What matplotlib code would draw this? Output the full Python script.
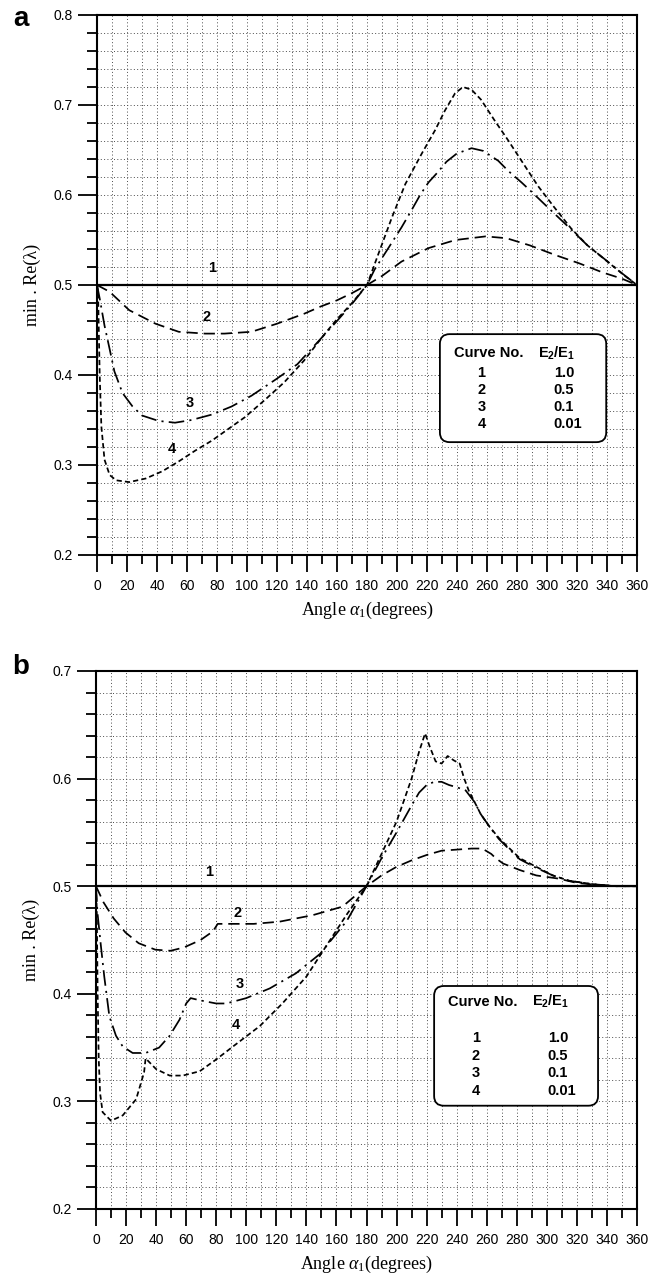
import matplotlib
matplotlib.use('Agg')
import matplotlib.pyplot as plt
from matplotlib.patches import FancyBboxPatch
from matplotlib.ticker import MultipleLocator

plt.rcParams['font.family'] = ['Liberation Sans', 'DejaVu Sans']
plt.rcParams['mathtext.fontset'] = 'custom'
plt.rcParams['mathtext.rm'] = 'Liberation Serif'
plt.rcParams['mathtext.it'] = 'Liberation Serif:italic'
plt.rcParams['mathtext.bf'] = 'Liberation Sans:bold'

# ---- panel a data ----
x1 = [0, 360]
y1 = [0.5, 0.5]

x2a = [0, 8.4, 21.5, 39, 54.5, 72, 85, 103, 120, 138, 149, 160, 170, 180,
       190, 203, 221, 239, 259, 273, 288.6, 306, 321.6, 337, 350, 360]
y2a = [0.5, 0.4925, 0.472, 0.457, 0.448, 0.446, 0.446, 0.448, 0.457, 0.468, 0.476, 0.483, 0.491, 0.5,
       0.51, 0.526, 0.541, 0.55, 0.554, 0.552, 0.544, 0.533, 0.524, 0.514, 0.507, 0.5]

x3a = [0, 1.8, 5, 8.4, 11.6, 17, 23.7, 30, 41, 52, 63, 76.5, 89.7, 103, 120, 133.6, 146.8, 160, 170, 180,
       185, 195, 203, 210, 215.4, 221, 227, 233, 239.8, 249.7, 257.5, 267.5, 274, 283, 290.7, 300.7,
       314, 327, 340.5, 350, 360]
y3a = [0.5, 0.485, 0.455, 0.429, 0.404, 0.38, 0.365, 0.355, 0.349, 0.347, 0.35, 0.356, 0.365, 0.377,
       0.396, 0.412, 0.436, 0.46, 0.479, 0.5,
       0.517, 0.543, 0.564, 0.584, 0.6, 0.614, 0.625, 0.637, 0.646, 0.652, 0.649, 0.638, 0.627, 0.614,
       0.602, 0.586, 0.565, 0.544, 0.526, 0.513, 0.5]

x4a = [0, 0.7, 1.8, 2.9, 5, 8.4, 12.7, 21.5, 32.5, 43.5, 54.5, 65.5, 76.5, 87.5, 98.5, 111.7, 124.9,
       138, 151, 160, 170, 180, 187.7, 196.6, 205.5, 216.5, 225.4, 232, 238.7, 244, 249.7, 256, 265,
       274, 283, 294, 305, 316, 327, 341, 352, 360]
y4a = [0.5, 0.4925, 0.40, 0.343, 0.306, 0.289, 0.283, 0.281, 0.285, 0.293, 0.304, 0.316, 0.327, 0.34,
       0.353, 0.372, 0.392, 0.416, 0.444, 0.462, 0.48, 0.5, 0.535, 0.575, 0.612, 0.646, 0.672, 0.694,
       0.713, 0.72, 0.717, 0.706, 0.683, 0.661, 0.638, 0.61, 0.586, 0.563, 0.544, 0.525, 0.51, 0.5]

# ---- panel b data ----
x2b = [0, 5, 11.8, 19.6, 28.4, 39.5, 49.6, 58.4, 69.6, 77.8, 81, 90, 105, 122, 144, 164, 180,
       185, 190, 200, 210, 220, 230, 240, 250, 257, 263, 266, 271, 282, 293, 308, 320, 335, 350, 360]
y2b = [0.5, 0.485, 0.47, 0.457, 0.447, 0.441, 0.44, 0.443, 0.45, 0.458, 0.465, 0.465, 0.465, 0.467,
       0.473, 0.481, 0.5,
       0.505, 0.51, 0.518, 0.524, 0.529, 0.533, 0.534, 0.535, 0.535, 0.53, 0.526, 0.521, 0.515, 0.51,
       0.507, 0.503, 0.501, 0.5, 0.5]

x3b = [0, 1, 3.3, 5.5, 8.9, 13.3, 17.8, 24.4, 33, 42, 49, 55.6, 60, 63, 69, 80, 86.7, 100, 115.6,
       133, 149, 167, 180, 185, 190, 200, 210, 215, 220, 225, 230, 235, 240, 246, 252, 256, 262, 268,
       273, 282, 293, 304, 315, 330, 345, 360]
y3b = [0.5, 0.475, 0.444, 0.416, 0.379, 0.361, 0.351, 0.345, 0.345, 0.35, 0.361, 0.376, 0.391, 0.396,
       0.394, 0.391, 0.391, 0.396, 0.405, 0.419, 0.437, 0.468, 0.5, 0.513, 0.526, 0.55, 0.575, 0.587,
       0.594, 0.597, 0.597, 0.594, 0.592, 0.589, 0.578, 0.567, 0.555, 0.544, 0.537, 0.525, 0.517, 0.51,
       0.505, 0.502, 0.5, 0.5]

x4b = [0, 0.5, 1.1, 1.8, 2.7, 4.4, 10, 17.8, 26.7, 32, 33, 40, 49, 57.8, 69, 80, 93, 109, 124, 140,
       153, 167, 180, 185, 190, 195, 200, 205, 210, 215, 219, 222, 226, 230, 234, 238, 242, 245, 248,
       252, 256, 262, 268, 273, 282, 293, 304, 315, 330, 345, 360]
y4b = [0.5, 0.478, 0.40, 0.34, 0.308, 0.29, 0.282, 0.287, 0.302, 0.327, 0.34, 0.33, 0.324, 0.324,
       0.328, 0.339, 0.353, 0.37, 0.391, 0.416, 0.444, 0.474, 0.5, 0.515, 0.53, 0.545, 0.56, 0.58,
       0.60, 0.625, 0.642, 0.63, 0.616, 0.614, 0.621, 0.617, 0.614, 0.6, 0.589, 0.578, 0.567, 0.555,
       0.545, 0.538, 0.526, 0.518, 0.51, 0.505, 0.502, 0.5, 0.5]

curve_no = ['1', '2', '3', '4']
ratios = ['1.0', '0.5', '0.1', '0.01']

# label spots for the curve numbers (data coords)
lab_a = [(77, 0.519), (73, 0.464), (62, 0.369), (50, 0.318)]
lab_b = [(75.6, 0.513), (94, 0.475), (95.5, 0.409), (93, 0.371)]

styles = {
    '1': dict(ls='-', lw=1.6),
    '2': dict(ls=(0, (6.5, 3.4)), lw=1.25),
    '3': dict(ls=(0, (9, 3, 1.2, 3)), lw=1.25),
    '4': dict(ls=(0, (3, 1.8)), lw=1.25),
}

fig = plt.figure(figsize=(6.62, 12.81), dpi=100)
ax_a = fig.add_axes([97/662, (1281-555)/1281, 540/662, 540/1281])
ax_b = fig.add_axes([96/662, (1281-1209)/1281, 541/662, 538/1281])


def setup(ax, ymin, ymax):
    ax.set_xlim(0, 360)
    ax.set_ylim(ymin, ymax)
    ax.xaxis.set_major_locator(MultipleLocator(20))
    ax.xaxis.set_minor_locator(MultipleLocator(10))
    ax.yaxis.set_major_locator(MultipleLocator(0.1))
    ax.yaxis.set_minor_locator(MultipleLocator(0.02))
    ax.yaxis.set_major_formatter(plt.FuncFormatter(lambda v, p: f'{v:.1f}'))
    ax.grid(which='both', ls=(0, (1, 2.4)), color='0.3', lw=0.7)
    ax.set_axisbelow(True)
    ax.tick_params(axis='x', which='major', direction='out', length=12, width=1.3, labelsize=10, pad=5)
    ax.tick_params(axis='x', which='minor', direction='out', length=6.5, width=1.3)
    ax.tick_params(axis='y', which='major', direction='out', length=13.5, width=1.3, labelsize=10, pad=4)
    ax.tick_params(axis='y', which='minor', direction='out', length=7, width=1.3)
    for s in ax.spines.values():
        s.set_linewidth(1.5)
    ax.set_xlabel(r'Angle $\alpha_{1}$(degrees)', family='Liberation Serif', fontsize=13, labelpad=5)
    ax.set_ylabel(u'min . Re(\u03bb)', family='Liberation Serif', fontsize=13, labelpad=9)


def legend_box(ax, bx, by, cols, ys):
    box = FancyBboxPatch((bx[0], by[0]), bx[1] - bx[0], by[1] - by[0], transform=ax.transAxes,
                         boxstyle='round,pad=0,rounding_size=0.018',
                         fc='white', ec='black', lw=1.3, zorder=5)
    ax.add_patch(box)
    kw = dict(transform=ax.transAxes, va='center', fontsize=10.5, weight='bold', zorder=6)
    ax.text(cols[0], ys[0], 'Curve No.', ha='center', **kw)
    ax.text(cols[1], ys[0], r'E$_\mathbf{2}$/E$_\mathbf{1}$', ha='center', **kw)
    for i in range(4):
        ax.text(cols[2], ys[i + 1], curve_no[i], ha='center', **kw)
        ax.text(cols[3], ys[i + 1], ratios[i], ha='left', **kw)


# panel a
setup(ax_a, 0.2, 0.8)
ax_a.plot(x1, y1, color='black', **styles['1'])
ax_a.plot(x2a, y2a, color='black', **styles['2'])
ax_a.plot(x3a, y3a, color='black', **styles['3'])
ax_a.plot(x4a, y4a, color='black', **styles['4'])
for n, (lx, ly) in zip(curve_no, lab_a):
    ax_a.text(lx, ly, n, ha='center', va='center', fontsize=10.5, weight='bold')
legend_box(ax_a, (0.635, 0.943), (0.209, 0.409), (0.726, 0.852, 0.712, 0.846),
           [0.374, 0.337, 0.306, 0.274, 0.243])
fig.text(21/662, 1 - 19/1281, 'a', ha='center', va='center', fontsize=20, weight='bold')

# panel b
setup(ax_b, 0.2, 0.7)
ax_b.plot(x1, y1, color='black', **styles['1'])
ax_b.plot(x2b, y2b, color='black', **styles['2'])
ax_b.plot(x3b, y3b, color='black', **styles['3'])
ax_b.plot(x4b, y4b, color='black', **styles['4'])
for n, (lx, ly) in zip(curve_no, lab_b):
    ax_b.text(lx, ly, n, ha='center', va='center', fontsize=10.5, weight='bold')
legend_box(ax_b, (0.625, 0.928), (0.192, 0.4145), (0.715, 0.841, 0.702, 0.835),
           [0.385, 0.318, 0.284, 0.253, 0.219])
fig.text(21/662, 1 - 667/1281, 'b', ha='center', va='center', fontsize=20, weight='bold')

fig.savefig('out.png', dpi=100)
